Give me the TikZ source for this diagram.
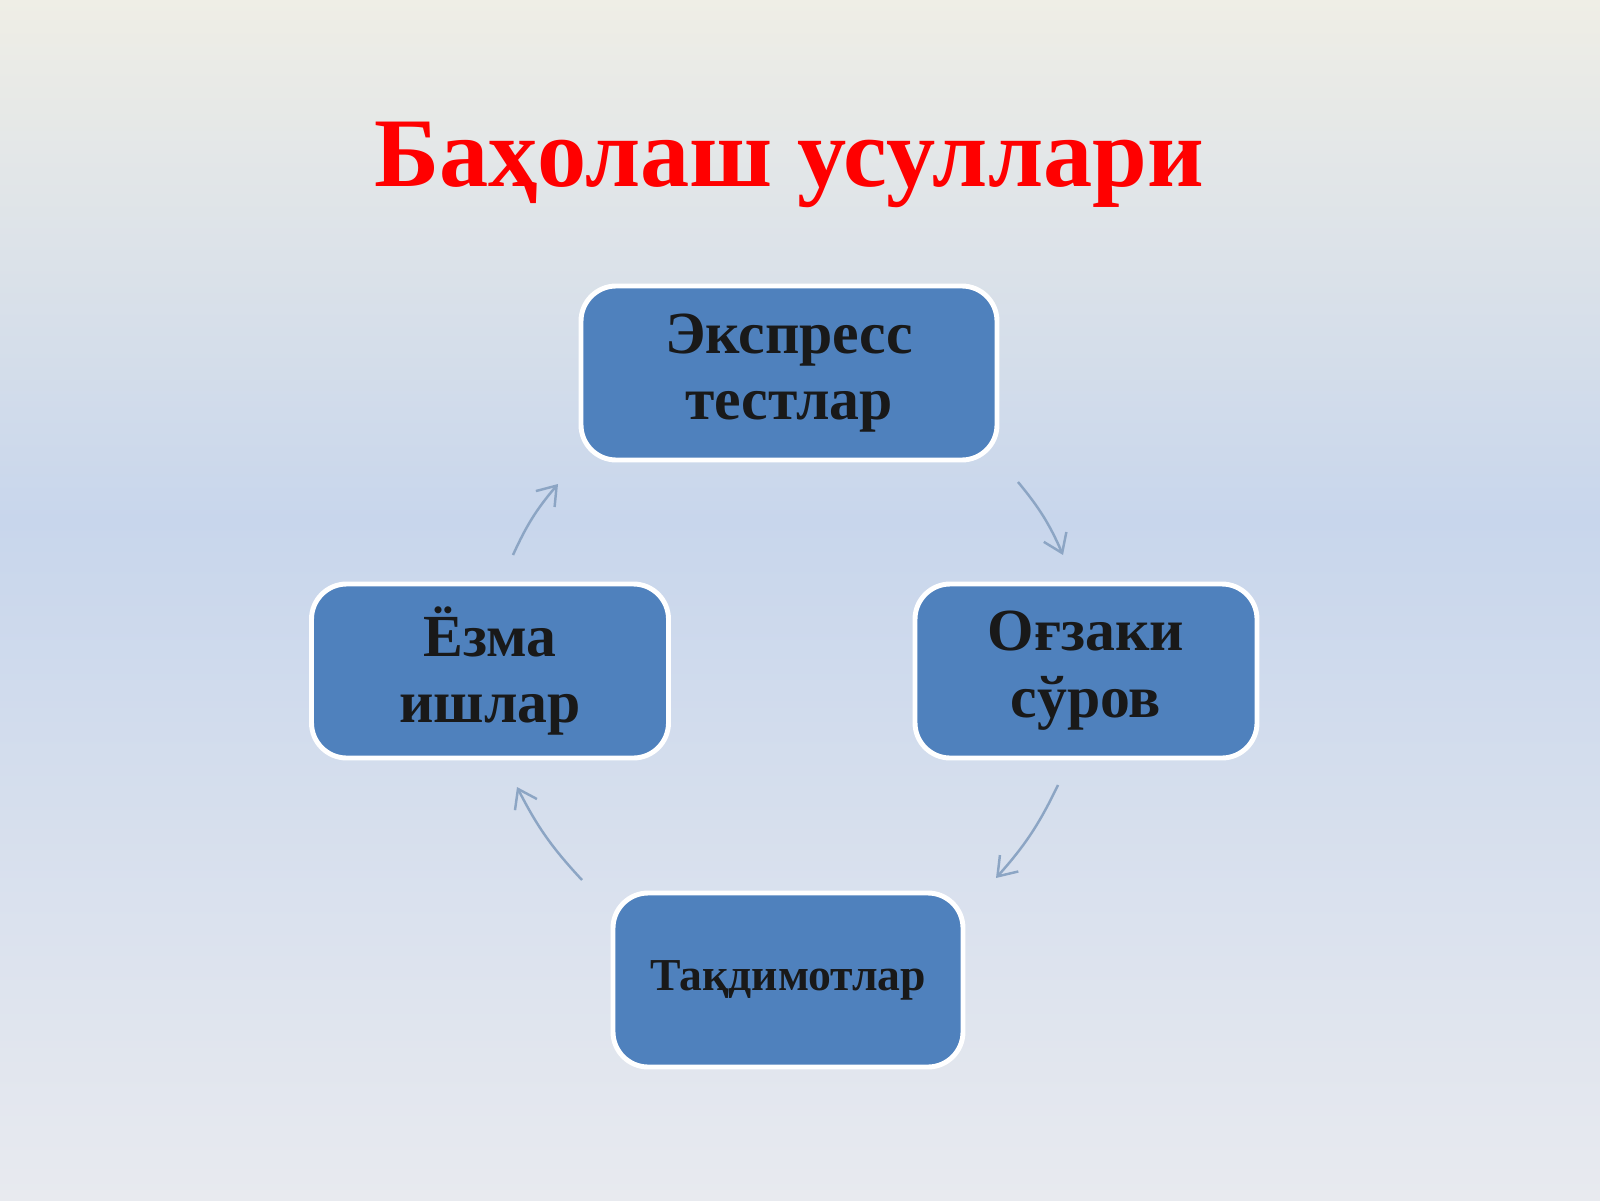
\documentclass[tikz,border=0pt]{standalone}
\usepackage{fontspec}
\setmainfont{Liberation Serif}
\usetikzlibrary{positioning,arrows.meta}
\definecolor{boxFill}{HTML}{4F81BD}
\definecolor{arrowColor}{HTML}{8CA5C4}
\definecolor{bgTop}{HTML}{EFEEE6}
\definecolor{bgMid}{HTML}{C8D6EC}
\definecolor{bgBot}{HTML}{E8EAEF}
\tikzset{
  method/.style={draw=white,line width=1.4pt,fill=boxFill,rounded corners=10pt,
    minimum height=1.74cm,align=center,font=\bfseries\fontsize{17}{19}\selectfont,
    text=black!90},
  cycleArrow/.style={draw=arrowColor,line width=0.7pt,-{Straight Barb[length=5pt,width=7pt]}}
}
\begin{document}
\begin{tikzpicture}
  \shade[top color=bgTop,bottom color=bgMid] (0,12) rectangle (16,6.8);
  \shade[top color=bgMid,bottom color=bgBot] (0,6.8) rectangle (16,0);
  \useasboundingbox (0,0) rectangle (16,12);

  \node[text=red,font=\bfseries\fontsize{28}{32}\selectfont] (title) at (7.89,10.35) {Баҳолаш усуллари};

  \node[method,minimum width=4.16cm] (express) at (7.89,8.27) {Экспресс\\тестлар};
  \node[method,minimum width=3.42cm] (oral) at (10.86,5.29) {Оғзаки\\сўров};
  \node[method,minimum width=3.50cm,font=\bfseries\fontsize{13}{15}\selectfont] (present) at (7.88,2.20) {Тақдимотлар};
  \node[method,minimum width=3.57cm] (written) at (4.90,5.29) {Ёзма\\ишлар};

  % arrow ends
  \coordinate (a1) at (5.13,6.45); \coordinate (a2) at (5.58,7.16);
  \coordinate (b1) at (10.18,7.18); \coordinate (b2) at (10.63,6.45);
  \coordinate (c1) at (10.58,4.15); \coordinate (c2) at (9.96,3.22);
  \coordinate (d1) at (5.82,3.20); \coordinate (d2) at (5.17,4.13);

  \draw[cycleArrow] (a1) to[bend left=8] (a2);
  \draw[cycleArrow] (b1) to[bend left=8] (b2);
  \draw[cycleArrow] (c1) to[bend left=8] (c2);
  \draw[cycleArrow] (d1) to[bend left=8] (d2);
\end{tikzpicture}
\end{document}
